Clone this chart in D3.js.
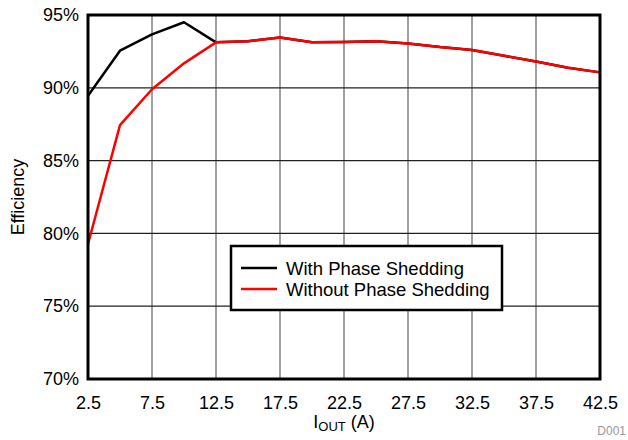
<!DOCTYPE html>
<html><head><meta charset="utf-8">
<script src="https://cdn.jsdelivr.net/npm/d3@7"></script>
<style>body{margin:0;background:#fff}svg{display:block;font-family:"Liberation Sans",Arial,sans-serif}</style>
</head><body><svg id="c" width="628" height="440"></svg>
<script>
const xValues = [2.5,5,7.5,10,12.5,15,17.5,20,22.5,25,27.5,30,32.5,35,37.5,40,42.5];
const withShedding = [89.45,92.55,93.67,94.5,93.12,93.2,93.46,93.13,93.15,93.2,93.05,92.8,92.6,92.2,91.8,91.38,91.06];
const withoutShedding = [79.27,87.44,89.9,91.68,93.12,93.2,93.46,93.13,93.15,93.2,93.05,92.8,92.6,92.2,91.8,91.38,91.06];
const xTicks = [2.5,7.5,12.5,17.5,22.5,27.5,32.5,37.5,42.5];
const yTicks = [70,75,80,85,90,95];
const seriesNames = ["With Phase Shedding","Without Phase Shedding"];
const seriesColors = ["#000000","#ff0000"];

const svg = d3.select("#c");
const L=88,R=600,T=15,B=379;
const x = d3.scaleLinear().domain([2.5,42.5]).range([L,R]);
const y = d3.scaleLinear().domain([70,95]).range([B,T]);
const FF = "Liberation Sans, Arial, sans-serif";

// grid
svg.append("g").selectAll("line").data(xTicks.slice(1,-1)).join("line")
  .attr("x1",d=>x(d)).attr("x2",d=>x(d)).attr("y1",T).attr("y2",B)
  .attr("stroke","#808080").attr("stroke-width",1.5);
svg.append("g").selectAll("line").data(yTicks.slice(1,-1)).join("line")
  .attr("y1",d=>y(d)).attr("y2",d=>y(d)).attr("x1",L).attr("x2",R)
  .attr("stroke","#222").attr("stroke-width",1.2);

// axes labels via d3 axes
const xa = svg.append("g").attr("transform",`translate(0,${B})`)
  .call(d3.axisBottom(x).tickValues(xTicks).tickSize(0).tickPadding(17).tickFormat(d3.format(".1f")));
xa.select(".domain").remove();
xa.selectAll("text").attr("font-size",18).attr("fill","#000").attr("font-family",FF);
const ya = svg.append("g").attr("transform",`translate(${L},0)`)
  .call(d3.axisLeft(y).tickValues(yTicks).tickSize(0).tickPadding(9).tickFormat(d=>d+"%"));
ya.select(".domain").remove();
ya.selectAll("text").attr("font-size",18).attr("fill","#000").attr("font-family",FF);

// lines
const line = d3.line().x((d,i)=>x(xValues[i])).y(d=>y(d));
[withShedding, withoutShedding].forEach((s,k)=>{
  svg.append("path").datum(s).attr("d",line).attr("fill","none")
    .attr("stroke",seriesColors[k]).attr("stroke-width",2.5).attr("stroke-linejoin","round");
});

// border
svg.append("rect").attr("x",L).attr("y",T).attr("width",R-L).attr("height",B-T)
  .attr("fill","none").attr("stroke","#000").attr("stroke-width",3);

// legend
const lg = svg.append("g");
lg.append("rect").attr("x",231).attr("y",246).attr("width",271).attr("height",64)
  .attr("fill","#fff").attr("stroke","#000").attr("stroke-width",2.5);
seriesNames.forEach((n,i)=>{
  const yy = 268 + i*21;
  lg.append("line").attr("x1",241).attr("x2",277).attr("y1",yy).attr("y2",yy)
    .attr("stroke",seriesColors[i]).attr("stroke-width",2.5);
  lg.append("text").attr("x",286).attr("y",yy+6.5).attr("font-size",18.5).text(n);
});

// axis titles
svg.append("text").attr("transform","translate(24,197) rotate(-90)")
  .attr("text-anchor","middle").attr("font-size",18).text("Efficiency");
const xt = svg.append("text").attr("x",344).attr("y",428).attr("text-anchor","middle").attr("font-size",18);
xt.append("tspan").text("I");
xt.append("tspan").attr("font-size",13).attr("dy",3).text("OUT");
xt.append("tspan").attr("dy",-3).text(" (A)");

svg.append("text").attr("x",626).attr("y",435).attr("text-anchor","end")
  .attr("font-size",12).attr("fill","#999").text("D001");
</script></body></html>
